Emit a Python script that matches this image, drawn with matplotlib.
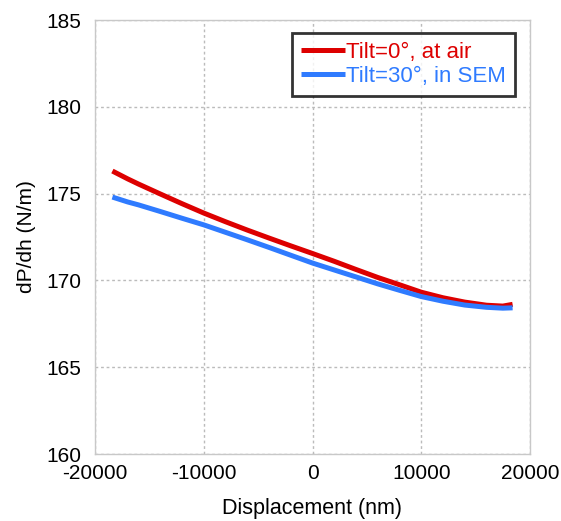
import matplotlib
matplotlib.use("Agg")
import matplotlib.pyplot as plt

plt.rcParams['font.family'] = ['Liberation Sans', 'DejaVu Sans']
plt.rcParams['axes.unicode_minus'] = False

# displacement (nm) and stiffness dP/dh (N/m)
disp = [-18400, -17000, -16000, -14000, -12000, -10000, -8000, -6000, -4000, -2000, 0,
        2000, 4000, 6000, 8000, 10000, 12000, 14000, 16000, 17500, 18400]
tilt0_air = [176.3, 175.85, 175.55, 174.98, 174.42, 173.88, 173.38, 172.9, 172.44, 171.99, 171.55,
             171.1, 170.63, 170.17, 169.75, 169.32, 169.0, 168.75, 168.57, 168.52, 168.62]
tilt30_sem = [174.8, 174.52, 174.35, 173.97, 173.58, 173.2, 172.77, 172.34, 171.9, 171.45, 171.0,
              170.6, 170.2, 169.8, 169.43, 169.07, 168.8, 168.58, 168.45, 168.4, 168.42]

xticks = [-20000, -10000, 0, 10000, 20000]
yticks = [160, 165, 170, 175, 180, 185]

fig = plt.figure(figsize=(5.61, 5.21), dpi=100)
ax = fig.add_axes([95 / 561, 1 - 454 / 521, 435 / 561, 434 / 521])

ax.plot(disp, tilt0_air, color='#dd0000', lw=3.6, label='Tilt=0°, at air', solid_capstyle='butt')
ax.plot(disp, tilt30_sem, color='#2f7bff', lw=3.6, label='Tilt=30°, in SEM', solid_capstyle='butt')

ax.set_xlim(-20000, 20000)
ax.set_ylim(160, 185)
ax.set_xticks(xticks)
ax.set_yticks(yticks)
ax.tick_params(length=0, labelsize=15)
ax.tick_params(axis='y', pad=10)
ax.tick_params(axis='x', pad=7)
ax.grid(True, color='#bbbbbb', ls=(0, (2, 2)), lw=1)
for s in ax.spines.values():
    s.set_color('#c8c8c8')
    s.set_linewidth(1)

ax.set_xlabel('Displacement (nm)', fontsize=15.5, labelpad=11)
ax.set_ylabel('dP/dh (N/m)', fontsize=15, labelpad=7)

leg = ax.legend(loc='upper right', bbox_to_anchor=(0.9655, 0.970), fontsize=16, frameon=True,
                fancybox=False, handlelength=2.0, handletextpad=0.05, borderpad=0.4,
                labelspacing=0.15, borderaxespad=0)
leg.get_frame().set_edgecolor('black')
leg.get_frame().set_linewidth(2)
for txt, c in zip(leg.get_texts(), ['#dd0000', '#2f7bff']):
    txt.set_color(c)

fig.savefig('out.png', dpi=100)
